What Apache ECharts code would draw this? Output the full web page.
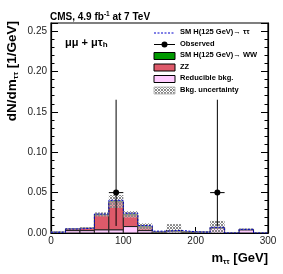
<!DOCTYPE html>
<html><head><meta charset="utf-8">
<script src="https://cdn.jsdelivr.net/npm/echarts@6/dist/echarts.min.js"></script>
<style>html,body{margin:0;padding:0;background:#fff}#c{width:283px;height:274px}</style>
</head><body><div id="c"></div>
<script>
// ---- data (dN/dm in 1/GeV, 20 GeV bins) ----
const binLow  = [0,20,40,60,80,100,120,140,160,180,200,220,240,260,280];
const binHigh = [20,40,60,80,100,120,140,160,180,200,220,240,260,280,300];
const reducible = [0.0005,0.003,0.003,0.004,0.004,0.008,0.003,0.001,0.0025,0.001,0.0008,0.006,0,0.004,0];
const zz        = [0.0005,0.002,0.003,0.0187,0.0346,0.0146,0.0047,0.0005,0.0005,0.0005,0.0002,0.001,0,0.0005,0];
const hww       = [0,0,0,0.0003,0.0004,0.0004,0.0003,0,0,0,0,0,0,0,0];
const htt       = [0,0,0,0.0005,0.0015,0.0015,0.0012,0.0008,0.0003,0,0,0,0,0,0];
const bkgUnc    = [0.001,0.001,0.001,0.0025,0.008,0.004,0.004,0.001,0.008,0.001,0.001,0.008,0,0.001,0];
const obsMass    = [90,230];
const obsValue   = [0.05,0.05];
const obsErrLow  = [0.0087,0.0087];
const obsErrHigh = [0.165,0.165];
const obsHalfBin = [10,10];
const xTickValues = [0,100,200,300];
const yTickValues = [0,0.05,0.10,0.15,0.20,0.25];

// ---- derived stacks ----
const s1 = reducible.slice();
const s2 = s1.map((v,i)=>v+zz[i]);
const s3 = s2.map((v,i)=>v+hww[i]);
const s4 = s3.map((v,i)=>v+htt[i]);
function rows(lo, hi){ return binLow.map((x,i)=>[x, binHigh[i], lo[i], hi[i]]); }
const zeros = binLow.map(()=>0);

// hatch pattern
const pc = document.createElement('canvas'); pc.width = 3; pc.height = 3;
const pctx = pc.getContext('2d');
pctx.fillStyle = 'rgba(255,255,255,0.35)'; pctx.fillRect(0,0,3,3);
pctx.fillStyle = '#8a8a8a';
pctx.fillRect(0,0,1,1); pctx.fillRect(2,0,1,1); pctx.fillRect(1,1,1,1); pctx.fillRect(0,2,1,1); pctx.fillRect(2,2,1,1);
const hatch = {image: pc, repeat: 'repeat'};

function rectRender(fill, stroke){
  return function(params, api){
    const a = api.coord([api.value(0), api.value(2)]);
    const b = api.coord([api.value(1), api.value(3)]);
    if (Math.abs(a[1]-b[1]) < 0.01) return null;
    return {type:'rect', shape:{x:a[0], y:b[1], width:b[0]-a[0], height:a[1]-b[1]},
      style:{fill: fill, stroke: stroke, lineWidth: stroke ? 1 : 0}};
  };
}

const chart = echarts.init(document.getElementById('c'), null, {renderer:'canvas'});
const font = 'Liberation Sans, Arial, Helvetica, sans-serif';
const axisCommon = {
  axisLine:{show:true, lineStyle:{color:'#000', width:1.2}},
  splitLine:{show:false},
};
const uncRows = binLow.map((x,i)=>[x, binHigh[i], Math.max(0, s3[i]-bkgUnc[i]), s3[i]+bkgUnc[i]]);
const stepData = binLow.map((x,i)=>[x, s4[i]]).concat([[300, s4[s4.length-1]]]);

const legendX = 154, legendT = 180;
const legendY = [33, 44.5, 56, 67.5, 79, 90.5];
const legendNames = ['SM H(125 GeV)\u2192 \u03c4\u03c4', 'Observed', 'SM H(125 GeV)\u2192 WW', 'ZZ', 'Reducible bkg.', 'Bkg. uncertainty'];
const lgText = legendNames.map((t,i)=>({type:'text', left: legendT, top: legendY[i]-5,
  style:{text:t, font:'bold 7.5px '+font, fill:'#000'}}));
const boxFills = [null, null, '#009900', '#de5a6a', '#ffccff', hatch];
const lgMarks = [
  {type:'line', shape:{x1:legendX, y1:legendY[0], x2:legendX+21, y2:legendY[0]}, style:{stroke:'#0000cc', lineWidth:1, lineDash:[2,1.5]}},
  {type:'line', shape:{x1:legendX, y1:legendY[1], x2:legendX+21, y2:legendY[1]}, style:{stroke:'#000', lineWidth:1}},
  {type:'circle', shape:{cx:legendX+10.5, cy:legendY[1], r:3}, style:{fill:'#000'}},
];
for (let i=2;i<6;i++){
  lgMarks.push({type:'rect', shape:{x:legendX, y:legendY[i]-3.5, width:21, height:7},
    style:{fill: boxFills[i], stroke: i<5 ? '#000' : '#bbb', lineWidth:1}});
}

chart.setOption({
  animation:false,
  backgroundColor:'#fff',
  grid:{left:51, right:15, top:23, bottom:41, show:true, borderColor:'#000', borderWidth:1.2, backgroundColor:'transparent'},
  xAxis:[{type:'value', min:0, max:300, interval:100, ...axisCommon,
    axisTick:{inside:true, length:6, lineStyle:{color:'#000'}},
    minorTick:{show:true, splitNumber:5, length:3, lineStyle:{color:'#000'}},
    axisLabel:{fontSize:10, fontFamily:font, color:'#222', margin:3}}],
  yAxis:[{type:'value', min:0, max:0.26, interval:0.05, ...axisCommon,
    axisTick:{inside:true, length:7, lineStyle:{color:'#000'}},
    minorTick:{show:true, splitNumber:5, length:3.5, lineStyle:{color:'#000'}},
    axisLabel:{fontSize:10, fontFamily:font, color:'#222', margin:4, showMaxLabel:false,
      formatter:v=>v.toFixed(2)}},
   {type:'value', position:'right', min:0, max:0.26, interval:0.05, ...axisCommon,
    axisTick:{inside:true, length:7, lineStyle:{color:'#000'}},
    minorTick:{show:true, splitNumber:5, length:3.5, lineStyle:{color:'#000'}},
    axisLabel:{show:false}}],
  series:[
    {type:'custom', name:'Reducible', renderItem:rectRender('#ffccff','#222'), data:rows(zeros, s1), clip:true, z:2},
    {type:'custom', name:'ZZ', renderItem:rectRender('#de5a6a','#222'), data:rows(s1, s2), clip:true, z:2},
    {type:'custom', name:'WW', renderItem:rectRender('#009900',null), data:rows(s2, s3), clip:true, z:2},
    {type:'custom', name:'Unc', renderItem:rectRender(hatch,null), data:uncRows, clip:true, z:3},
    {type:'line', name:'Htt', data:stepData, step:'end', symbol:'none', z:4,
      lineStyle:{color:'#0000cc', width:1, type:[2,1.5]}},
    {type:'custom', name:'Observed', clip:true, z:5,
      data: obsMass.map((m,i)=>[m, obsValue[i], obsErrLow[i], obsErrHigh[i], obsHalfBin[i]]),
      renderItem:function(params, api){
        const c = api.coord([api.value(0), api.value(1)]);
        const lo = api.coord([api.value(0), api.value(2)]);
        const hi = api.coord([api.value(0), api.value(3)]);
        const l = api.coord([api.value(0)-api.value(4), api.value(1)]);
        const r = api.coord([api.value(0)+api.value(4), api.value(1)]);
        return {type:'group', children:[
          {type:'line', shape:{x1:lo[0], y1:lo[1], x2:hi[0], y2:hi[1]}, style:{stroke:'#000', lineWidth:1}},
          {type:'line', shape:{x1:l[0], y1:l[1], x2:r[0], y2:r[1]}, style:{stroke:'#000', lineWidth:1}},
          {type:'circle', shape:{cx:c[0], cy:c[1], r:3}, style:{fill:'#000'}}
        ]};
      }}
  ],
  graphic:[
    {type:'text', left:50, top:11, style:{text:'CMS, 4.9 fb{sup|-1} at 7 TeV', font:'bold 10px '+font, fill:'#000',
      rich:{sup:{fontSize:6.5, fontWeight:'bold', fontFamily:font, verticalAlign:'top', padding:[0,0,5,0]}}}},
    {type:'text', left:65, top:37, style:{text:'\u03bc\u03bc + \u03bc\u03c4{sub|h}', font:'bold 11px '+font, fill:'#000',
      rich:{sub:{fontSize:8, fontWeight:'bold', fontFamily:font, padding:[5,0,0,0]}}}},
    {type:'text', x:12, y:21, rotation:Math.PI/2, style:{text:'dN/dm{sub|\u03c4\u03c4} [1/GeV]', font:'bold 13.5px '+font, fill:'#000',
      align:'right', verticalAlign:'middle',
      rich:{sub:{fontSize:8, fontWeight:'bold', fontFamily:font, padding:[7,0,0,0]}}}},
    {type:'text', x:268, y:258, style:{text:'m{sub|\u03c4\u03c4} [GeV]', font:'bold 13px '+font, fill:'#000',
      align:'right', verticalAlign:'middle',
      rich:{sub:{fontSize:7.5, fontWeight:'bold', fontFamily:font, padding:[7,0,0,0]}}}},
    ...lgMarks, ...lgText
  ]
});
</script></body></html>
